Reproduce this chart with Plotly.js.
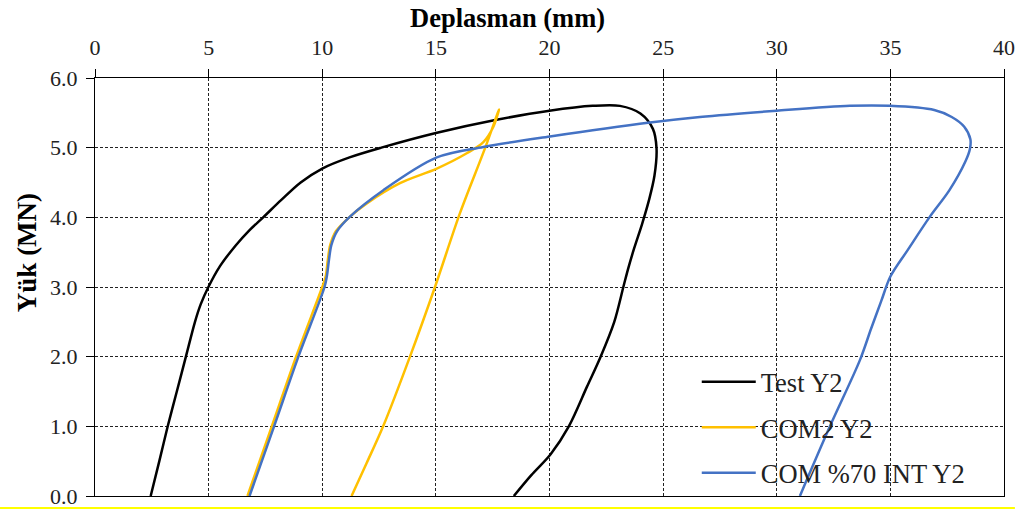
<!DOCTYPE html>
<html>
<head>
<meta charset="utf-8">
<script src="https://cdn.plot.ly/plotly-3.0.1.min.js"></script>
<style>
  html, body { margin: 0; padding: 0; background: #fff; }
  #chart { width: 1036px; height: 509px; }
</style>
</head>
<body>
<div id="chart"></div>
<script>
// Load–displacement curves (displacement in mm, load in MN)
const testX = [2.45, 2.83, 3.2, 3.6, 4.0, 4.4, 4.65, 4.99, 5.5, 6.2, 6.75, 7.4, 8.2, 9.05, 10.0, 11.2, 12.6, 15.0, 17.67, 20.0, 21.9, 23.1, 24.0, 24.55, 24.71, 24.62, 24.38, 24.07, 23.72, 23.45, 23.25, 22.85, 22.25, 21.65, 20.85, 20.05, 19.2, 18.43];
const testY = [0.0, 0.5, 1.0, 1.5, 2.0, 2.5, 2.75, 3.0, 3.3, 3.6, 3.8, 4.0, 4.25, 4.5, 4.7, 4.86, 5.0, 5.21, 5.4, 5.53, 5.6, 5.6, 5.49, 5.27, 4.99, 4.6, 4.25, 3.9, 3.55, 3.25, 3.0, 2.5, 2.0, 1.57, 1.0, 0.6, 0.3, 0.0];

const com2X = [6.71, 7.78, 8.85, 10.0, 10.15, 10.25, 10.35, 10.6, 11.22, 11.96, 13.42, 15.04, 16.36, 17.09, 17.53, 17.78, 17.16, 16.06, 14.96, 13.86, 12.68, 11.95, 11.29];
const com2Y = [0.0, 1.0, 2.0, 3.0, 3.15, 3.4, 3.6, 3.8, 4.01, 4.2, 4.49, 4.7, 4.92, 5.08, 5.3, 5.55, 4.99, 4.06, 3.0, 2.0, 1.0, 0.47, 0.0];

const com70X = [6.8, 7.88, 8.95, 10.1, 10.2, 10.3, 10.4, 10.65, 11.22, 12.69, 15.04, 17.09, 20.02, 24.42, 26.62, 30.0, 33.22, 34.98, 36.93, 37.7, 38.25, 38.52, 38.5, 38.3, 37.6, 36.74, 35.76, 35.0, 34.6, 34.15, 33.66, 32.34, 31.02];
const com70Y = [0.0, 1.0, 2.0, 3.0, 3.15, 3.4, 3.6, 3.8, 4.01, 4.39, 4.86, 5.01, 5.16, 5.36, 5.44, 5.53, 5.6, 5.6, 5.54, 5.44, 5.3, 5.12, 4.98, 4.8, 4.39, 4.01, 3.53, 3.15, 2.8, 2.4, 1.95, 1.0, 0.0];

const seriesNames = ['Test Y2', 'COM2 Y2', 'COM %70 INT Y2'];
const seriesColors = ['#000000', '#FFC000', '#4472C4'];

const FONT = '"Liberation Serif", "Times New Roman", serif';

const traces = [
  [testX, testY], [com2X, com2Y], [com70X, com70Y]
].map((d, i) => ({
  type: 'scatter',
  mode: 'lines',
  x: d[0],
  y: d[1],
  name: seriesNames[i],
  legendgroup: 'g' + i,
  line: { color: seriesColors[i], width: 2.5, shape: 'spline', smoothing: 0.9 },
  hoverinfo: 'x+y+name'
}));

const layout = {
  width: 1036,
  height: 509,
  margin: { l: 95, r: 32, t: 78, b: 13 },
  paper_bgcolor: '#ffffff',
  plot_bgcolor: '#ffffff',
  font: { family: FONT, size: 22, color: '#222222' },
  showlegend: true,
  legend: {
    x: 0.662, y: 0.33, xanchor: 'left', yanchor: 'top',
    bgcolor: 'rgba(0,0,0,0)',
    traceorder: 'grouped',
    tracegroupgap: 8,
    itemwidth: 54,
    font: { family: FONT, size: 26.5, color: '#222222' }
  },
  xaxis: {
    side: 'top',
    range: [0, 40],
    tick0: 0, dtick: 5,
    ticks: 'outside', ticklen: 8, tickwidth: 1, tickcolor: '#000',
    ticklabelstandoff: 5,
    showline: true, linecolor: '#000', linewidth: 1, mirror: true,
    showgrid: true, gridcolor: '#222', gridwidth: 1, griddash: '3px,2px',
    zeroline: false,
    tickfont: { family: FONT, size: 22, color: '#222222' }
  },
  yaxis: {
    range: [0, 6],
    tick0: 0, dtick: 1, tickformat: '.1f',
    ticks: 'outside', ticklen: 8, tickwidth: 1, tickcolor: '#000',
    ticklabelstandoff: 4,
    showline: true, linecolor: '#000', linewidth: 1, mirror: true,
    showgrid: true, gridcolor: '#222', gridwidth: 1, griddash: '3px,2px',
    zeroline: false,
    tickfont: { family: FONT, size: 22, color: '#222222' }
  },
  annotations: [
    {
      text: '<b>Deplasman (mm)</b>',
      xref: 'paper', yref: 'paper', x: 0.454, y: 1.143,
      xanchor: 'center', yanchor: 'middle', showarrow: false,
      font: { family: FONT, size: 26.5, color: '#000' }
    },
    {
      text: '<b>Yük (MN)</b>',
      xref: 'paper', yref: 'paper', x: -0.0748, y: 0.581,
      xanchor: 'center', yanchor: 'middle', showarrow: false, textangle: -90,
      font: { family: FONT, size: 27, color: '#000' }
    }
  ],
  shapes: [
    {
      type: 'rect', xref: 'paper', yref: 'paper',
      x0: -0.1045, x1: 1.012, y0: -0.031, y1: -0.0265,
      fillcolor: '#FFFF00', line: { width: 0 }
    }
  ]
};

Plotly.newPlot('chart', traces, layout, { displayModeBar: false, staticPlot: true });
</script>
</body>
</html>
